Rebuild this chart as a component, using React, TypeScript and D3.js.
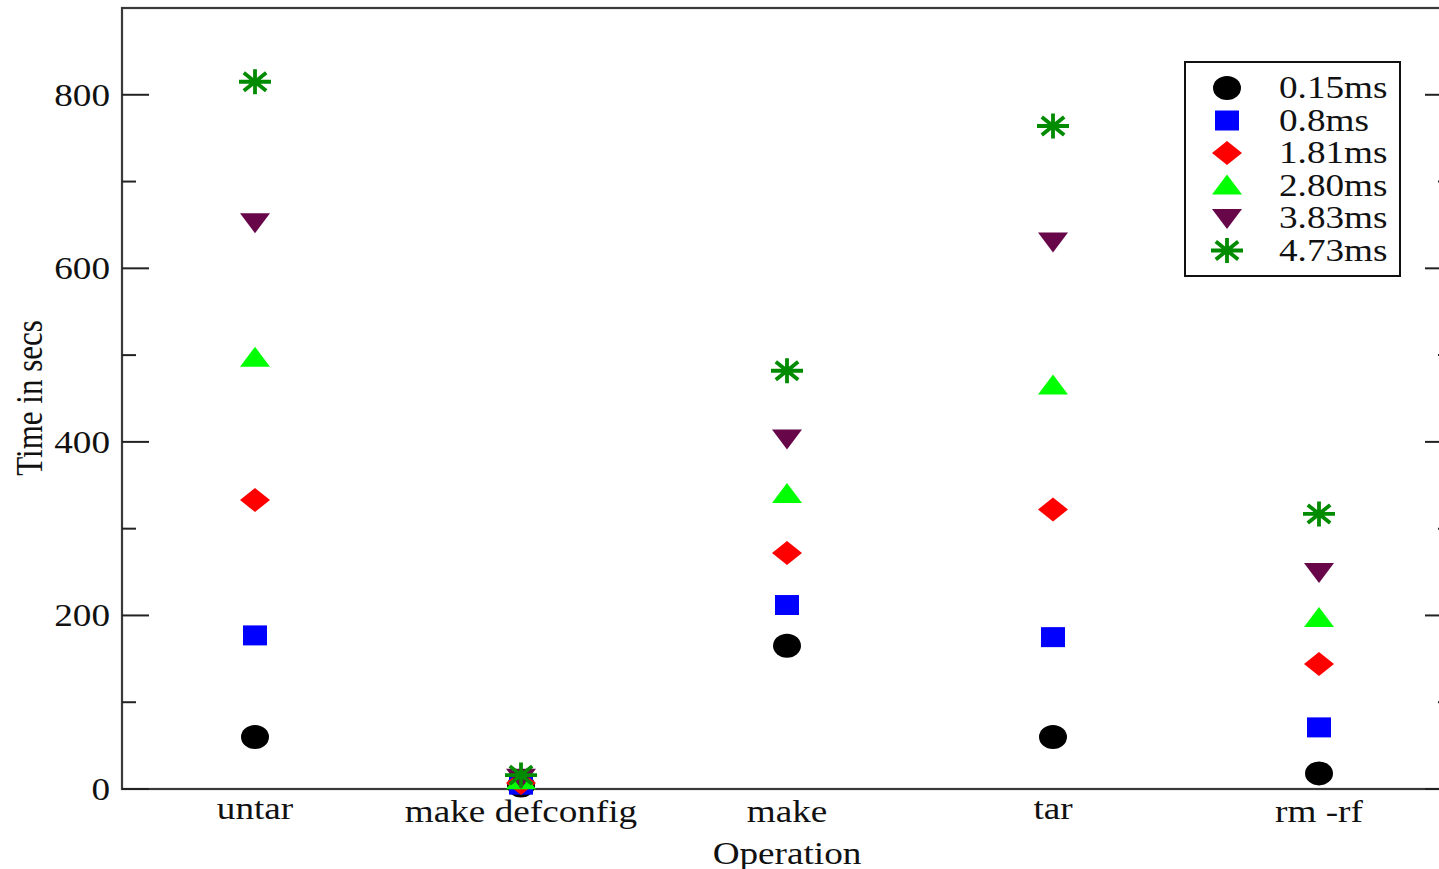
import React from 'react';
import * as d3 from 'd3';

// operations on the x axis
const operations = ['untar', 'make defconfig', 'make', 'tar', 'rm -rf'];

// one list of times (secs) per delay setting
const labels = ['0.15ms', '0.8ms', '1.81ms', '2.80ms', '3.83ms', '4.73ms'];
const t015 = [60, 4, 165, 60, 18];
const t080 = [177, 5, 212, 175, 71];
const t181 = [333, 7, 272, 322, 144];
const t280 = [497, 10, 340, 465, 197];
const t383 = [653, 13, 404, 631, 250];
const t473 = [815, 16, 482, 764, 317];

const yMajor = [0, 200, 400, 600, 800];
const yMinor = [100, 300, 500, 700];

const series = [t015, t080, t181, t280, t383, t473];
const colors = ['#000000', '#0000ff', '#ff0000', '#00ff00', '#67074a', '#008b00'];
const shapes = ['circle', 'square', 'diamond', 'up', 'down', 'star'];

const W = 1439;
const H = 869;
const margin = { left: 122, right: 1452, top: 8, bottom: 789 };
const FONT = '"Liberation Serif", "Times New Roman", serif';
const FS = 31;
const SX = 1.2; // horizontal stretch of the original picture

// marker outline, drawn around (x,y) in pixel units
function marker(shape: string, color: string, key: string, x: number, y: number) {
  const p = d3.path();
  if (shape === 'circle') {
    return <ellipse key={key} cx={x} cy={y} rx={14} ry={12} fill={color} />;
  }
  if (shape === 'square') {
    p.rect(x - 12, y - 10, 24, 20);
  } else if (shape === 'diamond') {
    p.moveTo(x, y - 12); p.lineTo(x + 15, y); p.lineTo(x, y + 12); p.lineTo(x - 15, y); p.closePath();
  } else if (shape === 'up') {
    p.moveTo(x, y - 11); p.lineTo(x + 15, y + 9); p.lineTo(x - 15, y + 9); p.closePath();
  } else if (shape === 'down') {
    p.moveTo(x, y + 11); p.lineTo(x + 15, y - 9); p.lineTo(x - 15, y - 9); p.closePath();
  } else {
    const rx = 16, ry = 12.5;
    p.moveTo(x - rx, y); p.lineTo(x + rx, y);
    p.moveTo(x, y - ry); p.lineTo(x, y + ry);
    p.moveTo(x - rx * 0.7, y - ry * 0.72); p.lineTo(x + rx * 0.7, y + ry * 0.72);
    p.moveTo(x - rx * 0.7, y + ry * 0.72); p.lineTo(x + rx * 0.7, y - ry * 0.72);
    return <path key={key} d={p.toString()} stroke={color} strokeWidth={3.8} fill="none" />;
  }
  return <path key={key} d={p.toString()} fill={color} />;
}

function Label(props: { x: number; y: number; anchor?: string; rotate?: number; children: string }) {
  const { x, y, anchor = 'start', rotate = 0, children } = props;
  const tf = rotate
    ? `translate(${x},${y}) scale(${SX},1) rotate(${rotate})`
    : `translate(${x},${y}) scale(${SX},1)`;
  return (
    <text transform={tf} textAnchor={anchor} fontFamily={FONT} fontSize={FS} fill="#111">
      {children}
    </text>
  );
}

export default function App() {
  const x = d3.scaleLinear().domain([0.5, operations.length + 0.5]).range([margin.left, margin.right]);
  const y = d3.scaleLinear().domain([0, 900]).range([margin.bottom, margin.top]);

  return (
    <svg width={W} height={H} style={{ position: 'absolute', left: 0, top: 0, background: '#fff' }}>
      {/* frame */}
      <rect x={margin.left} y={margin.top} width={margin.right - margin.left} height={margin.bottom - margin.top}
        fill="none" stroke="#3a3a3a" strokeWidth={2.2} />

      {/* y ticks, left and right */}
      {yMajor.map(v => (
        <g key={'M' + v}>
          <line x1={margin.left} x2={margin.left + 27} y1={y(v)} y2={y(v)} stroke="#222" strokeWidth={2} />
          <line x1={margin.right} x2={margin.right - 27} y1={y(v)} y2={y(v)} stroke="#222" strokeWidth={2} />
          <Label x={margin.left - 12} y={y(v) + 11} anchor="end">{String(v)}</Label>
        </g>
      ))}
      {yMinor.map(v => (
        <g key={'m' + v}>
          <line x1={margin.left} x2={margin.left + 14} y1={y(v)} y2={y(v)} stroke="#222" strokeWidth={2} />
          <line x1={margin.right} x2={margin.right - 14} y1={y(v)} y2={y(v)} stroke="#222" strokeWidth={2} />
        </g>
      ))}

      {/* category labels */}
      {operations.map((op, i) => (
        <Label key={op} x={x(i + 1)} y={/[bdfhkl]/.test(op) ? 822 : 819} anchor="middle">{op}</Label>
      ))}

      <Label x={(margin.left + margin.right) / 2} y={864} anchor="middle">Operation</Label>
      <Label x={42} y={398} anchor="middle" rotate={-90}>Time in secs</Label>

      {/* points */}
      {series.map((vals, s) =>
        vals.map((v, i) => marker(shapes[s], colors[s], `p${s}-${i}`, x(i + 1), y(v)))
      )}

      {/* legend */}
      <rect x={1185} y={62} width={215} height={214} fill="#fff" stroke="#111" strokeWidth={2} />
      {labels.map((lab, s) => {
        const by = 98 + s * 32.5;
        return (
          <g key={lab}>
            {marker(shapes[s], colors[s], 'l' + s, 1227, by - 10)}
            <Label x={1279} y={by}>{lab}</Label>
          </g>
        );
      })}
    </svg>
  );
}
